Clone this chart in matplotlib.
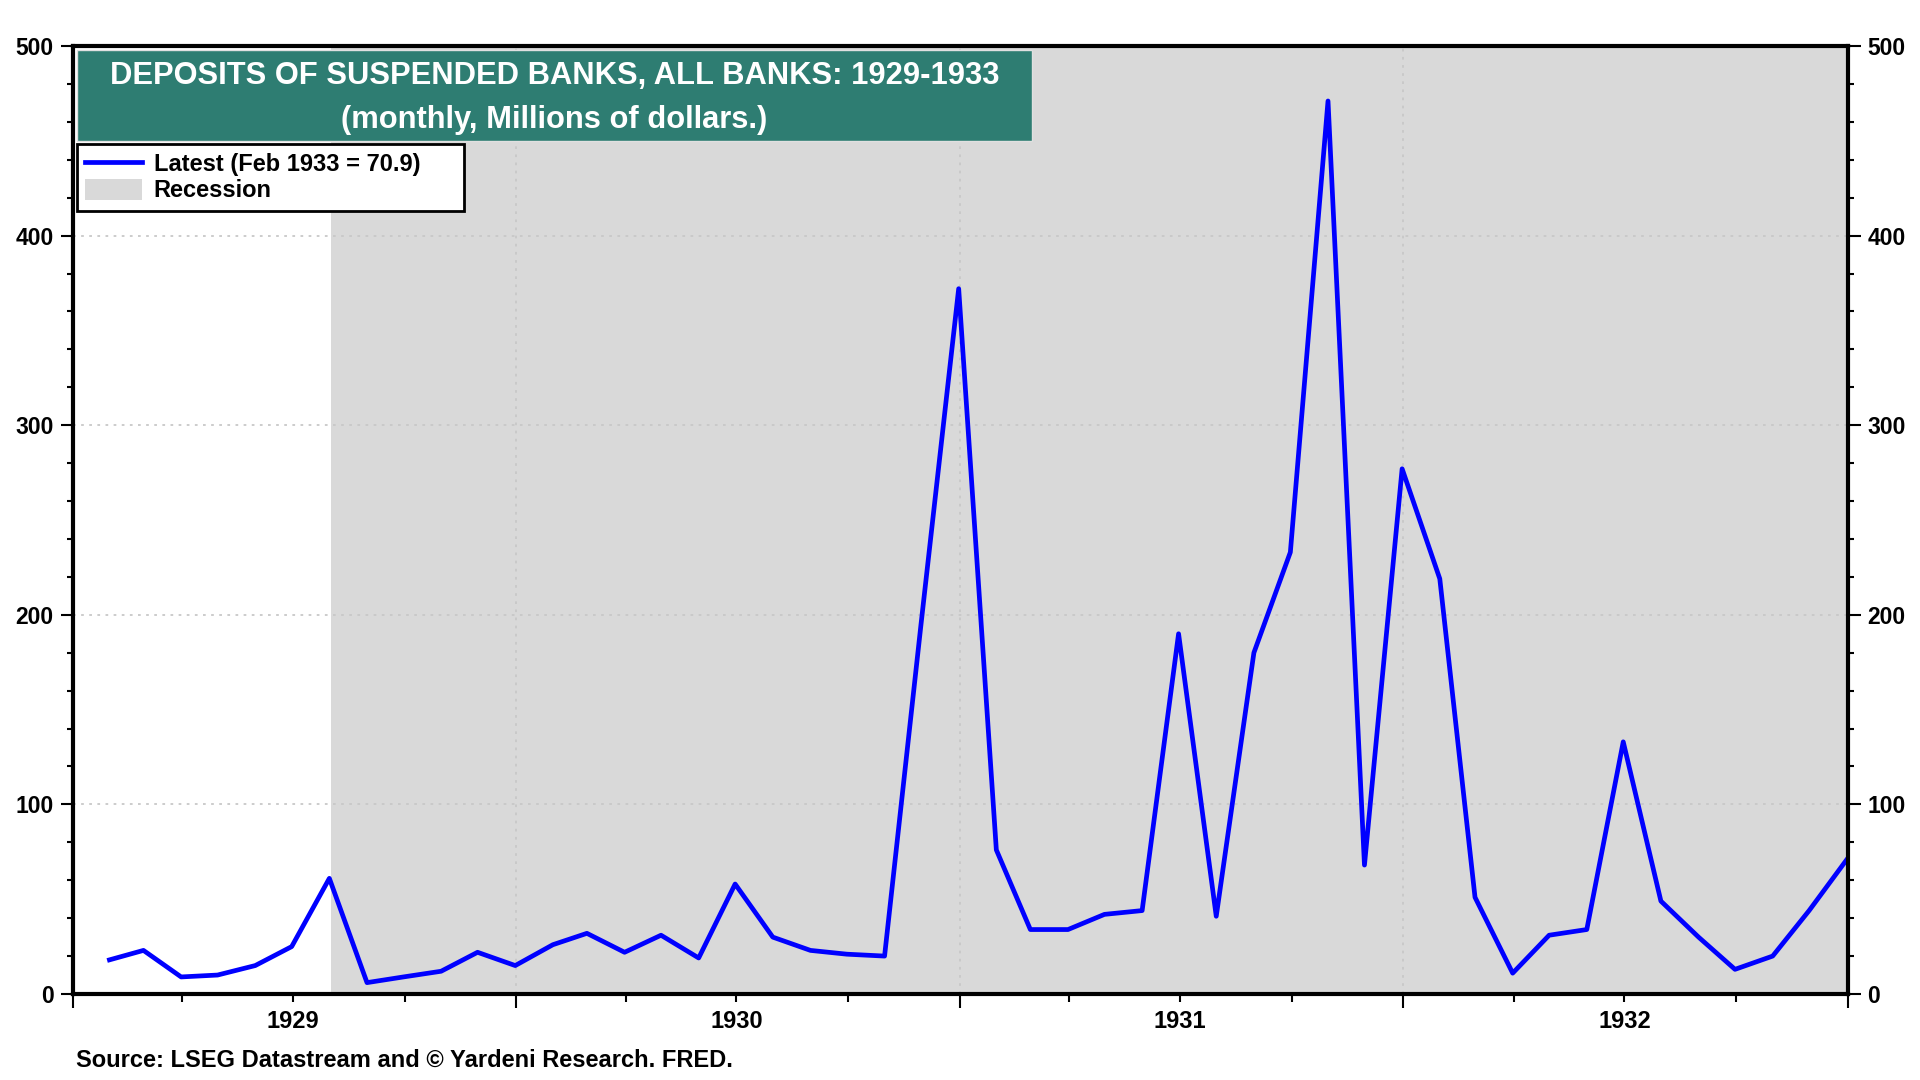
import matplotlib
matplotlib.use("Agg")
import matplotlib.pyplot as plt
import matplotlib.dates as mdates
import matplotlib.patches as mpatches
from matplotlib.lines import Line2D
import pandas as pd

plt.rcParams['font.family'] = ['Liberation Sans', 'DejaVu Sans']
plt.rcParams['font.weight'] = 'bold'

# Deposits of suspended banks, monthly, millions of dollars
months = pd.date_range("1929-01-31", periods=48, freq="ME")
deposits = [
    18, 23, 9, 10, 15, 25, 61, 6, 9, 12, 22, 15,          # 1929
    26, 32, 22, 31, 19, 58, 30, 23, 21, 20, 195, 372,     # 1930
    76, 34, 34, 42, 44, 190, 41, 180, 233, 471, 68, 277,  # 1931
    219, 51, 11, 31, 34, 133, 49, 30, 13, 20, 44, 70.9,   # 1932
]
year_labels = ["1929", "1930", "1931", "1932"]
recession_start = pd.Timestamp("1929-08-01")

title_txt = "DEPOSITS OF SUSPENDED BANKS, ALL BANKS: 1929-1933\n(monthly, Millions of dollars.)"
legend_line = "Latest (Feb 1933 = 70.9)"
legend_rec = "Recession"
source_txt = "Source: LSEG Datastream and \u00a9 Yardeni Research. FRED."

fig = plt.figure(figsize=(19.2, 10.8), dpi=100)
ax = fig.add_axes([73 / 1920, 86 / 1080, 1775 / 1920, 948 / 1080])

x0 = pd.Timestamp("1929-01-01")
x1 = pd.Timestamp("1933-01-01")
ax.axvspan(recession_start, x1, color="#D9D9D9", lw=0, zorder=0)
ax.plot(months, deposits, color="#0000FF", lw=3.4, zorder=3)

ax.set_xlim(x0, x1)
ax.set_ylim(0, 500)

# y axis
ax.set_yticks(range(0, 501, 100))
ax.set_yticks(range(0, 501, 20), minor=True)
ax.tick_params(axis="y", which="both", left=True, right=True, labelleft=True,
               labelright=True, direction="out", width=1.5, labelsize=16.5)
ax.tick_params(axis="y", which="major", length=9, pad=5)
ax.tick_params(axis="y", which="minor", length=4)

# x axis: year boundaries as major, quarters as minor, year names in the middle
ax.xaxis.set_major_locator(mdates.YearLocator())
ax.xaxis.set_minor_locator(mdates.MonthLocator(bymonth=[4, 7, 10]))
ax.xaxis.set_major_formatter(plt.NullFormatter())
ax.tick_params(axis="x", which="major", length=10, width=1.5, direction="out")
ax.tick_params(axis="x", which="minor", length=6, width=1.5, direction="out")
for i, lab in enumerate(year_labels):
    xm = pd.Timestamp(f"{1929 + i}-07-01")
    ax.text(xm, -0.029, lab, transform=ax.get_xaxis_transform(), ha="center",
            va="center", fontsize=17, fontweight="bold")

# grid
ax.grid(axis="y", which="major", color="#C8C8C8", ls=(0, (1.5, 3)), lw=1.3, zorder=1)
for yr in [1930, 1931, 1932]:
    ax.axvline(pd.Timestamp(f"{yr}-01-01"), color="#C8C8C8", ls=(0, (1.5, 3)),
               lw=1.3, zorder=1)

for s in ax.spines.values():
    s.set_linewidth(3)
    s.set_color("black")
    s.set_zorder(5)

# title box
box = mpatches.Rectangle((0.0023, 0.900), 0.538, 0.0958, transform=ax.transAxes,
                         facecolor="#2E7D72", edgecolor="#E0E0E0", lw=1, zorder=6)
ax.add_patch(box)
ax.text(0.2712, 0.9448, title_txt, transform=ax.transAxes, ha="center", va="center",
        color="white", fontsize=22.2, fontweight="bold", linespacing=1.62, zorder=7)

# legend
handles = [Line2D([], [], color="#0000FF", lw=3.4),
           mpatches.Patch(facecolor="#D9D9D9", edgecolor="none")]
leg = ax.legend(handles, [legend_line, legend_rec], loc="upper left",
                bbox_to_anchor=(0.0023, 0.8966, 0.218, 0), mode="expand",
                frameon=True, fancybox=False, framealpha=1, facecolor="white",
                fontsize=17, handlelength=2.4, handleheight=1.0, handletextpad=0.5,
                borderpad=0.35, labelspacing=0.12, borderaxespad=0)
leg.get_frame().set_edgecolor("black")
leg.get_frame().set_linewidth(2)
leg.set_zorder(8)
for t in leg.get_texts():
    t.set_fontweight("bold")

fig.text(76 / 1920, 1 - 1060 / 1080, source_txt, ha="left", va="center",
         fontsize=17, fontweight="bold")

fig.savefig("out.png", dpi=100)
